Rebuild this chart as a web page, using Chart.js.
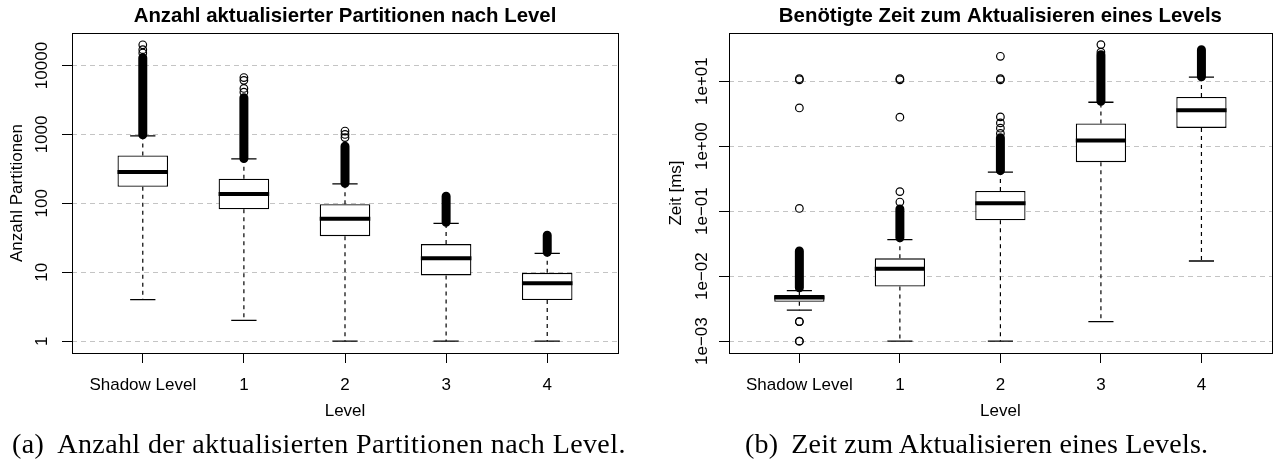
<!DOCTYPE html>
<html>
<head>
<meta charset="utf-8">
<script src="https://cdn.jsdelivr.net/npm/chart.js@4.4.0/dist/chart.umd.min.js"></script>
<style>
  html, body { margin: 0; padding: 0; background: #fff; overflow: hidden; }
  body { width: 1274px; height: 466px; position: relative; }
  canvas { position: absolute; top: 0; }
  #partChart { left: 0; }
  #timeChart { left: 637px; }
  .caption {
    position: absolute; top: 430px;
    font-family: "Liberation Serif", "DejaVu Serif", serif;
    font-size: 28px; line-height: 28px; letter-spacing: 0.4px;
    color: #000; white-space: nowrap;
  }
  .caption span { margin-right: 13px; }
</style>
</head>
<body>
<canvas id="partChart" width="637" height="430"></canvas>
<canvas id="timeChart" width="640" height="430"></canvas>
<div class="caption" style="left:12px"><span>(a)</span>Anzahl der aktualisierten Partitionen nach Level.</div>
<div class="caption" style="left:745px; letter-spacing: 0.2px"><span>(b)</span>Zeit zum Aktualisieren eines Levels.</div>
<script>
const categories = ["Shadow Level", "1", "2", "3", "4"]

// (a) updated partitions per level
const partTicks = [1, 10, 100, 1000, 10000]
const partTickLabels = ["1", "10", "100", "1000", "10000"]
const partLow = [4, 2, 1, 1, 1]
const partQ1 = [174, 82, 33.4, 9, 3.94]
const partMedian = [284, 137, 59.6, 15.9, 6.9]
const partQ3 = [496, 227, 97.3, 25.6, 9.8]
const partHigh = [955, 443, 192, 51.1, 18.8]
// single outliers that can be told apart
const partOutliers = [[15200, 17000, 20000], [4100, 4650, 6100, 6700], [900, 1000, 1120], [], []]
// ranges where the outlier circles merge into a solid column
const partOutlierRuns = [[990, 13000], [446, 3420], [196, 676], [53, 127], [19.5, 34.5]]

// (b) time per level update in ms
const timeTicks = [0.001, 0.01, 0.1, 1, 10]
const timeTickLabels = ["1e\u221203", "1e\u221202", "1e\u221201", "1e+00", "1e+01"]
const timeLow = [0.003, 0.001, 0.001, 0.002, 0.0171]
const timeQ1 = [0.00402, 0.0069, 0.0723, 0.567, 1.91]
const timeMedian = [0.00468, 0.013, 0.132, 1.22, 3.57]
const timeQ3 = [0.00514, 0.0188, 0.204, 2.23, 5.72]
const timeHigh = [0.00598, 0.0364, 0.398, 4.74, 11.5]
const timeOutliers = [
  [0.001, 0.001, 0.002, 0.002, 0.11, 3.87, 10.5, 10.9],
  [0.138, 0.2, 2.79, 10.5, 10.9],
  [1.57, 1.89, 2.28, 2.82, 10.5, 10.9, 24.1],
  [28, 36.5],
  []
]
const timeOutlierRuns = [[0.0066, 0.0244], [0.039, 0.108], [0.42, 1.35], [4.9, 25.5], [11.7, 30.4]]

const sans = "\"Liberation Sans\", Arial, Helvetica, sans-serif"
const axisFont = { family: sans, size: 17 }
Chart.defaults.color = "#000"

const frame = {
  id: "frame",
  afterDatasetsDraw(chart) {
    const { ctx, chartArea: a } = chart
    ctx.save()
    ctx.strokeStyle = "#000"
    ctx.lineWidth = 1
    ctx.strokeRect(Math.round(a.left) + 0.5, Math.round(a.top) + 0.5,
      Math.round(a.right - a.left), Math.round(a.bottom - a.top))
    ctx.restore()
  }
}

function boxplot(id, cfg) {
  const xs = categories.map((c, i) => i + 1)
  const whiskers = []
  const caps = []
  const medians = []
  const runs = []
  const points = []

  xs.forEach((x, i) => {
    whiskers.push({ x, y: cfg.q3[i] }, { x, y: cfg.high[i] }, { x, y: null },
      { x, y: cfg.q1[i] }, { x, y: cfg.low[i] }, { x, y: null })
    caps.push({ x: x - 0.125, y: cfg.high[i] }, { x: x + 0.125, y: cfg.high[i] }, { x, y: null },
      { x: x - 0.125, y: cfg.low[i] }, { x: x + 0.125, y: cfg.low[i] }, { x, y: null })
    medians.push({ x: x - 0.25, y: cfg.median[i] }, { x: x + 0.25, y: cfg.median[i] }, { x, y: null })
    runs.push({ x, y: cfg.runs[i][0] }, { x, y: cfg.runs[i][1] }, { x, y: null })
    cfg.outliers[i].forEach(v => points.push({ x, y: v }))
  })

  const segment = {
    type: "line",
    borderColor: "#000",
    pointRadius: 0,
    fill: false,
    spanGaps: false
  }

  return new Chart(document.getElementById(id), {
    type: "bar",
    data: {
      datasets: [
        {
          ...segment,
          data: points,
          showLine: false,
          pointRadius: 3.8,
          pointBorderWidth: 1.2,
          pointBorderColor: "#000",
          pointBackgroundColor: "rgba(0,0,0,0)",
          order: 0
        },
        { ...segment, data: runs, borderWidth: 9, borderCapStyle: "round", order: 0 },
        { ...segment, data: medians, borderWidth: 4, order: 1 },
        { ...segment, data: caps, borderWidth: 1.3, order: 1 },
        {
          type: "bar",
          data: xs.map((x, i) => ({ x, y: [cfg.q1[i], cfg.q3[i]] })),
          backgroundColor: "#fff",
          borderColor: "#000",
          borderWidth: 1.3,
          borderSkipped: false,
          categoryPercentage: 1,
          barPercentage: 0.5,
          order: 2
        },
        { ...segment, data: whiskers, borderWidth: 1.2, borderDash: [4, 4], order: 3 }
      ]
    },
    options: {
      responsive: false,
      animation: false,
      events: [],
      layout: { padding: { left: 0, right: cfg.padRight, top: 0, bottom: 0 } },
      scales: {
        x: {
          type: "linear",
          min: 0.3,
          max: 5.7,
          offset: false,
          afterBuildTicks: s => { s.ticks = xs.map(v => ({ value: v })) },
          afterFit: s => { s.height = 77 },
          ticks: {
            autoSkip: false,
            minRotation: 0,
            maxRotation: 0,
            padding: 12.3,
            font: axisFont,
            color: "#000",
            callback: v => categories[v - 1]
          },
          grid: { offset: false, drawOnChartArea: false, drawTicks: true, tickLength: 10, tickColor: "#000", color: "#000" },
          border: { display: false },
          title: { display: true, text: "Level", font: axisFont, color: "#000", padding: { top: 0, bottom: 8.8 } }
        },
        y: {
          type: "logarithmic",
          min: cfg.min,
          max: cfg.max,
          afterBuildTicks: s => { s.ticks = cfg.ticks.map(v => ({ value: v })) },
          afterFit: s => { s.width = cfg.yWidth },
          ticks: {
            autoSkip: false,
            minRotation: 90,
            maxRotation: 90,
            crossAlign: "center",
            padding: cfg.yTickPad,
            font: axisFont,
            color: "#000",
            callback: v => cfg.tickLabels[cfg.ticks.indexOf(v)]
          },
          grid: { color: "#c4c4c4", lineWidth: 1, tickColor: "#000", tickLength: 10, drawTicks: true },
          border: { display: false, dash: [5, 4] },
          title: { display: true, text: cfg.yTitle, font: axisFont, color: "#000", padding: { top: cfg.yTitlePad, bottom: 0 } }
        }
      },
      plugins: {
        legend: { display: false },
        tooltip: { enabled: false },
        title: {
          display: true,
          fullSize: false,
          text: cfg.title,
          color: "#000",
          font: { family: sans, size: 20.4, weight: "bold" },
          padding: { top: 3.8, bottom: 4.7 }
        }
      }
    },
    plugins: [frame]
  })
}

boxplot("partChart", {
  title: "Anzahl aktualisierter Partitionen nach Level",
  yTitle: "Anzahl Partitionen",
  ticks: partTicks,
  tickLabels: partTickLabels,
  min: 0.673,
  max: 29700,
  low: partLow, q1: partQ1, median: partMedian, q3: partQ3, high: partHigh,
  outliers: partOutliers,
  runs: partOutlierRuns,
  yWidth: 72,
  yTickPad: -3.6,
  yTitlePad: 6.8,
  padRight: 19
})

boxplot("timeChart", {
  title: "Benötigte Zeit zum Aktualisieren eines Levels",
  yTitle: "Zeit [ms]",
  ticks: timeTicks,
  tickLabels: timeTickLabels,
  min: 0.000657,
  max: 55.1,
  low: timeLow, q1: timeQ1, median: timeMedian, q3: timeQ3, high: timeHigh,
  outliers: timeOutliers,
  runs: timeOutlierRuns,
  yWidth: 92,
  yTickPad: -7.4,
  yTitlePad: 28.8,
  padRight: 1
})
</script>
</body>
</html>
